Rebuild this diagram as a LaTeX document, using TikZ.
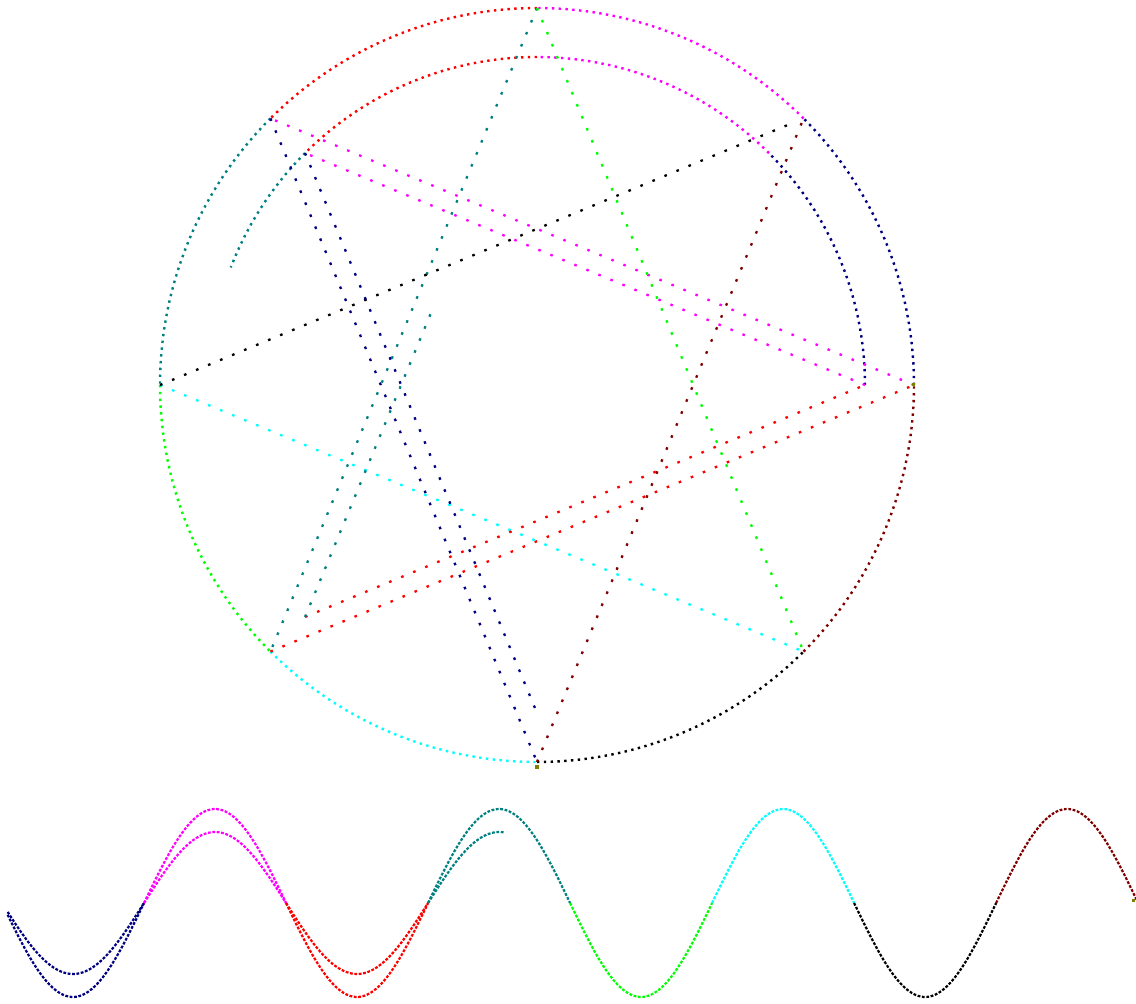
\documentclass[tikz,border=0pt]{standalone}
\usetikzlibrary{calc}
\definecolor{cnavy}{RGB}{0,0,128}
\definecolor{cmag}{RGB}{255,0,255}
\definecolor{cred}{RGB}{255,0,0}
\definecolor{cteal}{RGB}{0,128,128}
\definecolor{cgreen}{RGB}{0,255,0}
\definecolor{ccyan}{RGB}{0,255,255}
\definecolor{cblack}{RGB}{0,0,0}
\definecolor{cmaroon}{RGB}{128,0,0}
\definecolor{colive}{RGB}{128,128,0}
\begin{document}
\begin{tikzpicture}[x=1pt,y=-1pt,
  arcdots/.style={line width=2.4pt, dash pattern=on 2.4pt off 4.4pt},
  chorddots/.style={line width=2.3pt, dash pattern=on 2.6pt off 10.4pt},
  wavedots/.style={line width=2.2pt, dash pattern=on 2.8pt off 1.6pt},
  marker/.style={fill=colive}]
\useasboundingbox (0,0) rectangle (1136,1004);
% vertices of the outer and inner circles
\foreach \k in {0,...,7}{
  \coordinate (o\k) at ({537+377*cos(45*\k)},{385-377*sin(45*\k)});
  \coordinate (i\k) at ({537+328*cos(45*\k)},{385-328*sin(45*\k)});
}
\coordinate (tEnd) at ($(i5)!0.545!(i2)$);
\coordinate (bEnd) at ($(o4)!0.975!(o1)$);
% outer circle arcs
\foreach \c/\a/\b in {cnavy/0/45,cmag/45/90,cred/90/135,cteal/135/180,cgreen/180/225,ccyan/225/270,cblack/270/315,cmaroon/315/360}
  \draw[arcdots,\c] plot[domain=\a:\b,samples=40] ({537+377*cos(\x)},{385-377*sin(\x)});
% inner (second) arcs
\foreach \c/\a/\b in {cnavy/0/45,cmag/45/90,cred/90/135,cteal/135/159}
  \draw[arcdots,\c] plot[domain=\a:\b,samples=40] ({537+328*cos(\x)},{385-328*sin(\x)});
% chords, outer
\draw[chorddots,cmag] (o0) -- (o3);
\draw[chorddots,cnavy] (o3) -- (o6);
\draw[chorddots,cred] (o5) -- (o0);
\draw[chorddots,cteal] (o2) -- (o5);
\draw[chorddots,cgreen] (o2) -- (o7);
\draw[chorddots,ccyan] (o4) -- (o7);
\draw[chorddots,cblack] (o4) -- (bEnd);
\draw[chorddots,cmaroon] (o6) -- (o1);
% chords, inner
\draw[chorddots,cmag] (i0) -- (i3);
\draw[chorddots,cnavy] (i3) -- (i6);
\draw[chorddots,cred] (i5) -- (i0);
\draw[chorddots,cteal] (i5) -- (tEnd);
% wave, outer
\foreach \c/\a/\b in {cnavy/1.8/45,cmag/45/90,cred/90/135,cteal/135/180,cgreen/180/225,ccyan/225/270,cblack/270/315,cmaroon/315/360}
  \draw[wavedots,\c] plot[domain=\a:\b,samples=50] ({2+3.156*\x},{903+94*sin(4*\x)});
% wave, inner
\foreach \c/\a/\b in {cnavy/1.8/45,cmag/45/90,cred/90/135,cteal/135/159}
  \draw[wavedots,\c] plot[domain=\a:\b,samples=50] ({2+3.156*\x},{903+71*sin(4*\x)});
% small olive marks
\fill[marker] (535,765) rectangle (539,769);
\fill[marker] (911.5,382.5) rectangle (914.5,385.5);
\fill[marker] (1131.5,899) rectangle (1134.5,902);
\end{tikzpicture}
\end{document}
